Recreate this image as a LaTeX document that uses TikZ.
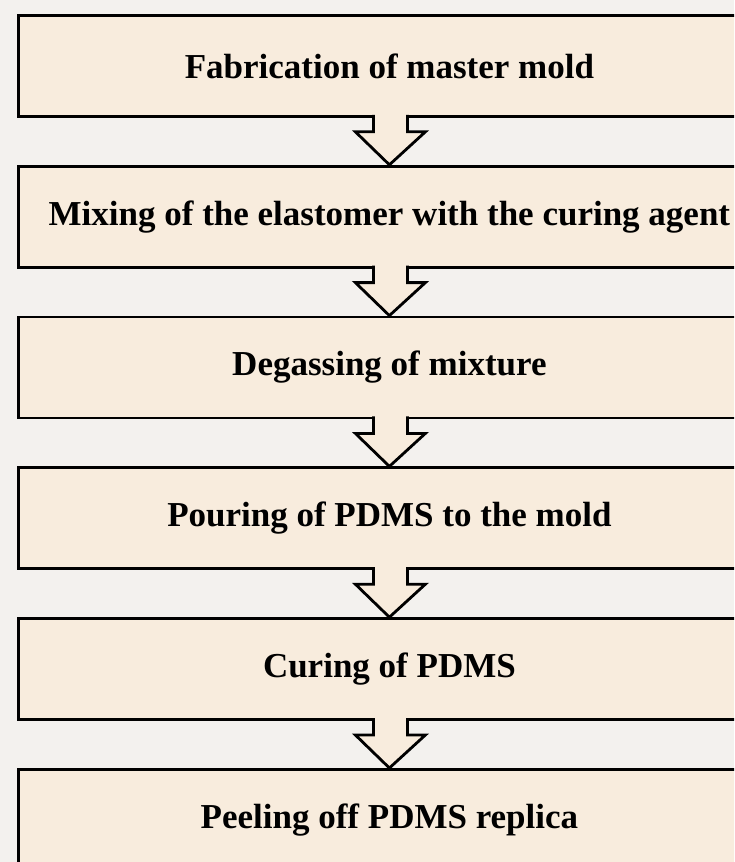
\documentclass[tikz,border=0pt]{standalone}
\usepackage{fontspec}
\setmainfont{Liberation Serif}
\usetikzlibrary{positioning,calc}
\definecolor{pagebg}{RGB}{243,241,238}
\definecolor{boxfill}{RGB}{248,236,221}
\tikzset{
  stepbox/.style={draw, line width=2.8pt, fill=boxfill, minimum width=742pt, minimum height=101pt, inner sep=0pt, font=\fontsize{35}{40}\selectfont\bfseries},
  flowarrow/.style={draw, line width=2.8pt, fill=boxfill, line join=miter}
}
% hollow block arrow from the bottom of one box to the top of the next
\newcommand{\blockarrow}[2]{%
  \draw[flowarrow] ($(#1.south)+(-16,3)$) -- ++(0,-17) -- ++(-18,0) -- (#2.north)
    -- ($(#1.south)+(36,-14)$) -- ++(-18,0) -- ++(0,17);}

\begin{document}
\begin{tikzpicture}[x=1pt, y=1pt, node distance=47pt]
\path[use as bounding box, fill=pagebg] (0,0) rectangle (734,-862);
\clip (0,0) rectangle (734,-862);
\node[stepbox, anchor=north west] (master) at (17,-14) {Fabrication of master mold};
\node[stepbox, below=of master] (mixing) {Mixing of the elastomer with the curing agent};
\node[stepbox, below=of mixing] (degas) {Degassing of mixture};
\node[stepbox, below=of degas] (pour) {Pouring of PDMS to the mold};
\node[stepbox, below=of pour] (cure) {Curing of PDMS};
\node[stepbox, below=of cure] (peel) {Peeling off PDMS replica};
\foreach \a/\b in {master/mixing, mixing/degas, degas/pour, pour/cure, cure/peel}
  \blockarrow{\a}{\b};
\end{tikzpicture}
\end{document}
